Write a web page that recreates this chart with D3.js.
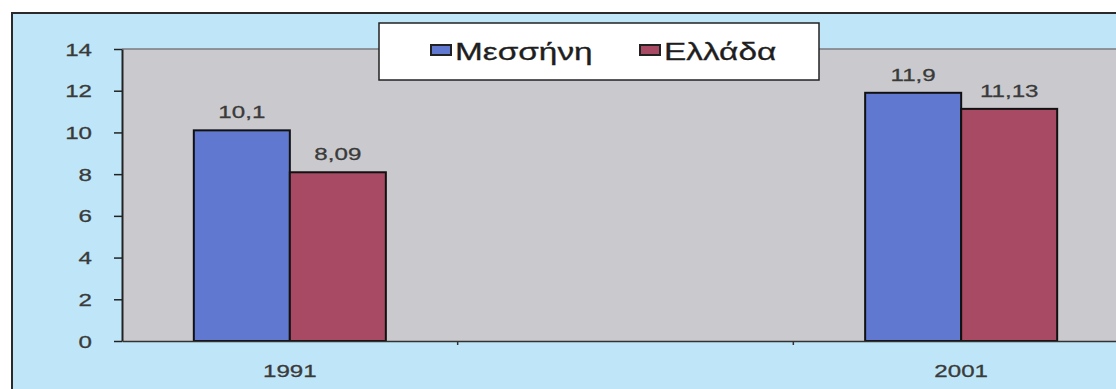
<!DOCTYPE html>
<html><head><meta charset="utf-8">
<script src="https://cdn.jsdelivr.net/npm/d3@7"></script>
<style>
html,body{margin:0;padding:0;background:#fff;overflow:hidden}
svg{display:block}
text{font-family:"Liberation Sans",Arial,sans-serif}
</style></head>
<body>
<svg id="c" width="1116" height="389"></svg>
<script>
const categories = ["1991", "", "2001"];
const seriesNames = ["Μεσσήνη", "Ελλάδα"];
const messiniValues = [10.1, null, 11.9];
const elladaValues = [8.09, null, 11.13];
const valueLabels = [["10,1", null, "11,9"], ["8,09", null, "11,13"]];
const yTicks = [0, 2, 4, 6, 8, 10, 12, 14];
const seriesColors = ["#6078cf", "#a84a63"];

(function () {
const SX = 1.42;
const FS = 17;
const svg = d3.select("#c");
const pLeft = 122, pRight = 1129, pTop = 49, pBottom = 341;

// outer chart area
svg.append("rect").attr("x", 12).attr("y", 13).attr("width", 1200).attr("height", 500)
  .attr("fill", "#bfe6f8").attr("stroke", "#2a2a2a").attr("stroke-width", 2);

const x0 = d3.scaleBand().domain(categories).range([pLeft, pRight]).paddingInner(0).paddingOuter(0);
const x1 = d3.scaleBand().domain(seriesNames).range([0, x0.bandwidth()]).paddingInner(0).paddingOuter(0.748);
const y = d3.scaleLinear().domain([0, 14]).range([pBottom, pTop]);

// plot area
svg.append("rect").attr("x", pLeft).attr("y", y(14)).attr("width", pRight - pLeft).attr("height", y(0) - y(14))
  .attr("fill", "#cacace");
svg.append("line").attr("x1", pLeft).attr("x2", pRight).attr("y1", y(14)).attr("y2", y(14))
  .attr("stroke", "#7a7a80").attr("stroke-width", 1.5);

const series = [messiniValues, elladaValues];
series.forEach((vals, si) => {
  const g = svg.append("g");
  const data = categories.map((c, i) => ({c, v: vals[i], lab: valueLabels[si][i]})).filter(d => d.v != null);
  g.selectAll("rect").data(data).join("rect")
    .attr("x", d => x0(d.c) + x1(seriesNames[si]))
    .attr("y", d => y(d.v))
    .attr("width", x1.bandwidth())
    .attr("height", d => y(0) - y(d.v))
    .attr("fill", seriesColors[si])
    .attr("stroke", "#111").attr("stroke-width", 2);
  g.selectAll("text").data(data).join("text")
    .attr("transform", d => `translate(${x0(d.c) + x1(seriesNames[si]) + x1.bandwidth() / 2},${y(d.v) - 12}) scale(${SX},1)`)
    .attr("text-anchor", "middle")
    .attr("font-size", FS).attr("fill", "#3a3a3a").attr("stroke", "#3a3a3a").attr("stroke-width", 0.3)
    .text(d => d.lab);
});

// y axis
const ya = svg.append("g").attr("transform", `translate(${pLeft},0)`)
  .call(d3.axisLeft(y).tickValues(yTicks).tickSize(8).tickSizeOuter(0));
ya.select(".domain").attr("stroke", "#222").attr("stroke-width", 2);
ya.selectAll(".tick line").attr("stroke", "#222").attr("stroke-width", 1.5);
ya.selectAll(".tick text").attr("x", 0).attr("dy", "0.36em")
  .attr("transform", `translate(-30,0) scale(${SX},1)`)
  .attr("font-size", FS).attr("fill", "#3a3a3a").attr("stroke", "#3a3a3a").attr("stroke-width", 0.3)
  .attr("font-family", "Liberation Sans, Arial, sans-serif");

// x axis
const xa = svg.append("g").attr("transform", `translate(0,${pBottom})`)
  .call(d3.axisBottom(x0).tickSize(0).tickSizeOuter(0));
xa.select(".domain").attr("stroke", "#333").attr("stroke-width", 1.5);
xa.selectAll(".tick text").attr("y", 0).attr("dy", 0)
  .attr("transform", `translate(0,36) scale(${SX},1)`)
  .attr("font-size", FS).attr("fill", "#3a3a3a").attr("stroke", "#3a3a3a").attr("stroke-width", 0.3)
  .attr("font-family", "Liberation Sans, Arial, sans-serif");
// category boundary ticks
svg.append("g").selectAll("line").data(categories.slice(1)).join("line")
  .attr("x1", d => x0(d)).attr("x2", d => x0(d))
  .attr("y1", pBottom).attr("y2", pBottom + 4)
  .attr("stroke", "#333").attr("stroke-width", 1.5);

// legend
const lg = svg.append("g");
lg.append("rect").attr("x", 379).attr("y", 23).attr("width", 440).attr("height", 57)
  .attr("fill", "#fff").attr("stroke", "#222").attr("stroke-width", 1.5);
const legendX = [431, 640];
seriesNames.forEach((n, i) => {
  lg.append("rect").attr("x", legendX[i]).attr("y", 45).attr("width", 20).attr("height", 10)
    .attr("fill", seriesColors[i]).attr("stroke", "#222").attr("stroke-width", 2);
  lg.append("text").attr("transform", `translate(${legendX[i] + 24},60) scale(${SX},1)`)
    .attr("font-size", 23.5).attr("fill", "#1e1e1e").attr("stroke", "#1e1e1e").attr("stroke-width", 0.3)
    .text(n);
});
})();
</script>
</body></html>
